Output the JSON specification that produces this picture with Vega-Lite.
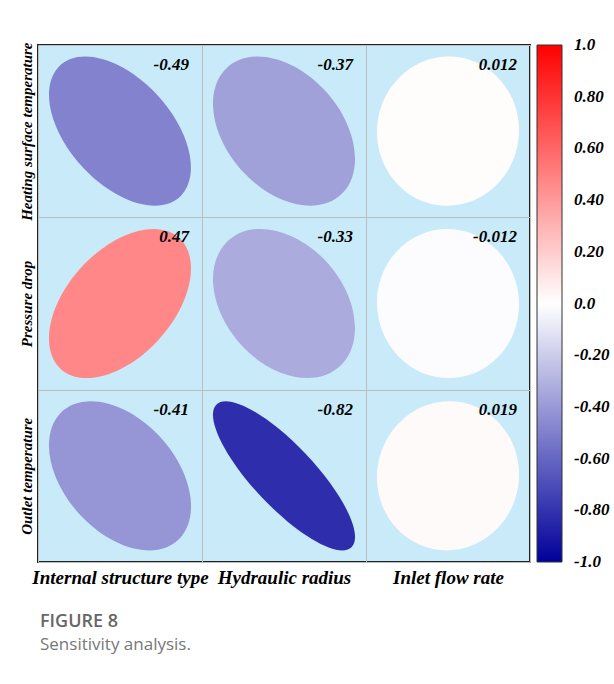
{
  "$schema": "https://vega.github.io/schema/vega-lite/v6.json",
  "width": 492,
  "height": 517,
  "autosize": {"type": "none"},
  "padding": {"left": 38, "top": 45, "right": 84, "bottom": 122},
  "background": "white",
  "data": {
    "values": [
      {"row": "Heating surface temperature", "col": "Internal structure type", "r": -0.49},
      {"row": "Heating surface temperature", "col": "Hydraulic radius", "r": -0.37},
      {"row": "Heating surface temperature", "col": "Inlet flow rate", "r": 0.012},
      {"row": "Pressure drop", "col": "Internal structure type", "r": 0.47},
      {"row": "Pressure drop", "col": "Hydraulic radius", "r": -0.33},
      {"row": "Pressure drop", "col": "Inlet flow rate", "r": -0.012},
      {"row": "Outlet temperature", "col": "Internal structure type", "r": -0.41},
      {"row": "Outlet temperature", "col": "Hydraulic radius", "r": -0.82},
      {"row": "Outlet temperature", "col": "Inlet flow rate", "r": 0.019}
    ]
  },
  "title": {
    "text": "FIGURE 8",
    "subtitle": "Sensitivity analysis.",
    "orient": "bottom",
    "anchor": "start",
    "frame": "group",
    "offset": 26,
    "dx": 2,
    "font": "Open Sans",
    "fontSize": 18,
    "fontWeight": 600,
    "color": "#666666",
    "subtitleFont": "Open Sans",
    "subtitleFontSize": 17,
    "subtitleFontWeight": "normal",
    "subtitleColor": "#777777",
    "subtitlePadding": 6
  },
  "encoding": {
    "x": {
      "field": "col", "type": "nominal",
      "sort": ["Internal structure type", "Hydraulic radius", "Inlet flow rate"],
      "scale": {"paddingInner": 0, "paddingOuter": 0},
      "axis": {
        "orient": "bottom", "title": null, "domain": false, "ticks": false,
        "grid": true, "gridColor": "#BDBDBD", "gridWidth": 1, "tickBand": "extent",
        "labelFont": "Liberation Serif", "labelFontSize": 19, "labelFontWeight": "bold",
        "labelFontStyle": "italic", "labelColor": "black", "labelPadding": 6, "labelAngle": 0
      }
    },
    "y": {
      "field": "row", "type": "nominal",
      "sort": ["Heating surface temperature", "Pressure drop", "Outlet temperature"],
      "scale": {"paddingInner": 0, "paddingOuter": 0},
      "axis": {
        "orient": "left", "title": null, "domain": false, "ticks": false,
        "grid": true, "gridColor": "#BDBDBD", "gridWidth": 1, "tickBand": "extent",
        "labelFont": "Liberation Serif", "labelFontSize": 15, "labelFontWeight": "bold",
        "labelFontStyle": "italic", "labelColor": "black", "labelPadding": 7,
        "labelAngle": -90, "labelAlign": "center", "labelBaseline": "alphabetic"
      }
    }
  },
  "layer": [
    {
      "mark": {"type": "point", "filled": true, "opacity": 1, "size": 20164, "strokeWidth": 0},
      "encoding": {
        "shape": {
          "field": "r", "type": "nominal", "legend": null,
          "scale": {
            "domain": [-0.49, -0.37, 0.012, 0.47, -0.33, -0.012, -0.41, -0.82, 0.019],
            "range": [
              "M 0.505 -0.530 C 0.028 -1.031 -0.584 -1.199 -0.863 -0.906 C -1.142 -0.613 -0.982 0.030 -0.505 0.530 C -0.028 1.031 0.584 1.199 0.863 0.906 C 1.142 0.613 0.982 -0.030 0.505 -0.530 Z",
              "M 0.561 -0.589 C 0.104 -1.069 -0.518 -1.195 -0.828 -0.869 C -1.138 -0.544 -1.018 0.109 -0.561 0.589 C -0.104 1.069 0.518 1.195 0.828 0.869 C 1.138 0.544 1.018 -0.109 0.561 -0.589 Z",
              "M 0.711 -0.747 C 0.323 -1.155 -0.310 -1.151 -0.703 -0.738 C -1.096 -0.325 -1.100 0.339 -0.711 0.747 C -0.323 1.155 0.310 1.151 0.703 0.738 C 1.096 0.325 1.100 -0.339 0.711 -0.747 Z",
              "M 0.857 -0.900 C 0.573 -1.199 -0.041 -1.038 -0.515 -0.541 C -0.988 -0.043 -1.142 0.602 -0.857 0.900 C -0.573 1.199 0.041 1.038 0.515 0.541 C 0.988 0.043 1.142 -0.602 0.857 -0.900 Z",
              "M 0.579 -0.608 C 0.128 -1.081 -0.496 -1.192 -0.815 -0.856 C -1.135 -0.521 -1.029 0.135 -0.579 0.608 C -0.128 1.081 0.496 1.192 0.815 0.856 C 1.135 0.521 1.029 -0.135 0.579 -0.608 Z",
              "M 0.703 -0.738 C 0.310 -1.151 -0.323 -1.155 -0.711 -0.747 C -1.100 -0.339 -1.096 0.325 -0.703 0.738 C -0.310 1.151 0.323 1.155 0.711 0.747 C 1.100 0.339 1.096 -0.325 0.703 -0.738 Z",
              "M 0.543 -0.570 C 0.079 -1.057 -0.540 -1.197 -0.840 -0.882 C -1.140 -0.567 -1.007 0.083 -0.543 0.570 C -0.079 1.057 0.540 1.197 0.840 0.882 C 1.140 0.567 1.007 -0.083 0.543 -0.570 Z",
              "M 0.300 -0.315 C -0.227 -0.868 -0.788 -1.176 -0.954 -1.002 C -1.120 -0.828 -0.827 -0.238 -0.300 0.315 C 0.227 0.868 0.788 1.176 0.954 1.002 C 1.120 0.828 0.827 0.238 0.300 -0.315 Z",
              "M 0.714 -0.749 C 0.327 -1.156 -0.306 -1.149 -0.700 -0.735 C -1.095 -0.321 -1.101 0.343 -0.714 0.749 C -0.327 1.156 0.306 1.149 0.700 0.735 C 1.095 0.321 1.101 -0.343 0.714 -0.749 Z"
            ]
          }
        },
        "color": {
          "field": "r", "type": "quantitative",
          "scale": {"domain": [-1.0001, 0, 1.0001], "range": ["#00009B", "#FFFFFF", "#FF0000"], "interpolate": "rgb"},
          "legend": {
            "orient": "none", "legendX": 499, "legendY": 0, "direction": "vertical",
            "title": null, "padding": 0,
            "gradientLength": 517, "gradientThickness": 25,
            "gradientStrokeColor": "#333333", "gradientStrokeWidth": 1,
            "values": [-1, -0.8, -0.6, -0.4, -0.2, 0, 0.2, 0.4, 0.6, 0.8, 1],
            "labelExpr": "datum.value > 0.99 ? '1.0' : datum.value < -0.99 ? '-1.0' : abs(datum.value) < 0.01 ? '0.0' : (datum.value < 0 ? '-' : '') + format(abs(datum.value), '.2f')",
            "labelFont": "Liberation Serif", "labelFontSize": 17, "labelFontWeight": "bold",
            "labelFontStyle": "italic", "labelColor": "black", "labelOffset": 12,
            "labelOverlap": false
          }
        }
      }
    },
    {
      "mark": {
        "type": "text", "align": "right", "baseline": "alphabetic", "dx": -13, "dy": 25,
        "font": "Liberation Serif", "fontSize": 17, "fontWeight": "bold", "fontStyle": "italic", "color": "black"
      },
      "encoding": {
        "x": {"field": "col", "type": "nominal", "sort": ["Internal structure type", "Hydraulic radius", "Inlet flow rate"], "bandPosition": 1},
        "y": {"field": "row", "type": "nominal", "sort": ["Heating surface temperature", "Pressure drop", "Outlet temperature"], "bandPosition": 0},
        "text": {"field": "r", "type": "nominal"}
      }
    }
  ],
  "config": {
    "view": {"fill": "#C9EBF9", "stroke": "#222222", "strokeWidth": 2}
  }
}
